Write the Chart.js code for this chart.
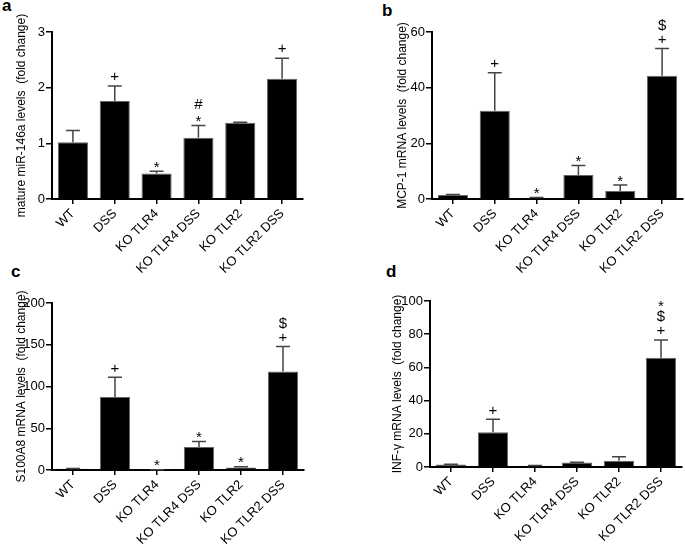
<!DOCTYPE html>
<html>
<head>
<meta charset="utf-8">
<script src="https://cdn.jsdelivr.net/npm/chart.js@4.4.1/dist/chart.umd.min.js"></script>
<style>
  html, body { margin: 0; padding: 0; background: #fff; }
  #wrap { position: relative; width: 685px; height: 545px; overflow: hidden; font-family: "Liberation Sans", Arial, sans-serif; }
  canvas { position: absolute; }
  .tag { position: absolute; font-weight: bold; font-size: 17px; line-height: 17px; color: #000; }
</style>
</head>
<body>
<div id="wrap">
  <div class="tag" style="left:2px; top:-3px;">a</div>
  <div class="tag" style="left:382px; top:2px;">b</div>
  <div class="tag" style="left:11px; top:263px;">c</div>
  <div class="tag" style="left:386px; top:263px;">d</div>
  <canvas id="chartC" width="340" height="275" style="left:0; top:270px;"></canvas>
  <canvas id="chartD" width="345" height="275" style="left:340px; top:270px;"></canvas>
  <canvas id="chartA" width="340" height="290" style="left:0; top:0;"></canvas>
  <canvas id="chartB" width="345" height="290" style="left:340px; top:0;"></canvas>
</div>
<script>
const categories = ['WT', 'DSS', 'KO TLR4', 'KO TLR4 DSS', 'KO TLR2', 'KO TLR2 DSS'];

// a: mature miR-146a
const mirValues = [1.02, 1.76, 0.46, 1.10, 1.37, 2.16];
const mirErrors = [0.21, 0.27, 0.04, 0.22, 0.01, 0.37];
const mirMarks = [[], ['+'], ['*'], ['*', '#'], [], ['+']];
const mirTicks = [0, 1, 2, 3];

// b: MCP-1 mRNA
const mcpValues = [1.4, 31.7, 0.4, 8.6, 2.9, 44.3];
const mcpErrors = [0.2, 13.7, 0.1, 3.4, 2.1, 9.8];
const mcpMarks = [[], ['+'], ['*'], ['*'], ['*'], ['+', '$']];
const mcpTicks = [0, 20, 40, 60];

// c: S100A8 mRNA
const s100Values = [1.5, 87.5, 0.3, 27.5, 3.0, 118];
const s100Errors = [0.3, 23.5, 0.1, 6.5, 1.0, 30];
const s100Marks = [[], ['+'], ['*'], ['*'], ['*'], ['+', '$']];
const s100Ticks = [0, 50, 100, 150, 200];

// d: INF-gamma mRNA
const infValues = [1.5, 20.9, 0.8, 2.7, 3.8, 65.8];
const infErrors = [0.2, 7.8, 0.1, 0.2, 2.4, 10.7];
const infMarks = [[], ['+'], [], [], [], ['+', '$', '*']];
const infTicks = [0, 20, 40, 60, 80, 100];

const FONT = '"Liberation Sans", Arial, sans-serif';

// vertical centre of each glyph above its baseline, in em
const glyphMid = { '+': 0.35, '*': 0.58, '$': 0.35, '#': 0.35 };
const MARK_SIZE = 15;

const errorBars = {
  id: 'errorBars',
  afterDatasetsDraw(chart, args, opts) {
    const ctx = chart.ctx;
    const meta = chart.getDatasetMeta(0);
    const yScale = chart.scales.y;
    const values = chart.data.datasets[0].data;
    ctx.save();
    meta.data.forEach((bar, i) => {
      const top = yScale.getPixelForValue(values[i] + opts.errors[i]);
      ctx.strokeStyle = '#444';
      ctx.lineWidth = 1.5;
      ctx.beginPath();
      ctx.moveTo(bar.x, bar.y);
      ctx.lineTo(bar.x, top);
      ctx.moveTo(bar.x - 7, top);
      ctx.lineTo(bar.x + 7, top);
      ctx.stroke();

      // significance marks, stacked upwards
      ctx.fillStyle = '#000';
      ctx.font = MARK_SIZE + 'px ' + FONT;
      ctx.textAlign = 'center';
      ctx.textBaseline = 'alphabetic';
      let centre = top;
      opts.marks[i].forEach((m, k) => {
        centre -= k === 0 ? (m === '*' ? 8 : 10) : 14;
        ctx.fillText(m, bar.x, centre + glyphMid[m] * MARK_SIZE);
      });
    });
    ctx.restore();
  }
};

function drawPanel(canvasId, values, errors, marks, ticks, title, pad, xHeight, titlePad) {
  const canvas = document.getElementById(canvasId);
  if (!canvas) return;

  new Chart(canvas, {
    type: 'bar',
    data: {
      labels: categories,
      datasets: [{
        data: values,
        backgroundColor: '#000',
        borderColor: '#666',
        borderWidth: 1,
        categoryPercentage: 1,
        barPercentage: 0.72
      }]
    },
    options: {
      responsive: false,
      animation: false,
      events: [],
      layout: { padding: pad },
      plugins: {
        legend: { display: false },
        tooltip: { enabled: false },
        errorBars: { errors: errors, marks: marks }
      },
      scales: {
        x: {
          afterFit: (scale) => { scale.height = xHeight; },
          grid: {
            offset: false,
            drawOnChartArea: false,
            drawTicks: true,
            tickLength: 5,
            color: '#000',
            lineWidth: 1.5
          },
          border: { display: true, color: '#000', width: 2 },
          ticks: {
            autoSkip: false,
            minRotation: 45,
            maxRotation: 45,
            padding: 2,
            color: '#000',
            font: { family: FONT, size: 13 }
          }
        },
        y: {
          min: ticks[0],
          max: ticks[ticks.length - 1],
          afterFit: (scale) => { scale.width = 52; },
          afterBuildTicks: (scale) => { scale.ticks = ticks.map(v => ({ value: v })); },
          grid: {
            drawOnChartArea: false,
            drawTicks: true,
            tickLength: 6,
            color: '#000',
            lineWidth: 1.5
          },
          border: { display: true, color: '#000', width: 2 },
          ticks: {
            padding: 1,
            color: '#000',
            font: { family: FONT, size: 13 }
          },
          title: {
            display: true,
            text: title,
            color: '#000',
            font: { family: FONT, size: 12 },
            padding: { top: titlePad, bottom: 0 }
          }
        }
      }
    },
    plugins: [errorBars]
  });
}

drawPanel('chartA', mirValues, mirErrors, mirMarks, mirTicks,
  'mature miR-146a levels  (fold change)', { left: 0, top: 32, right: 37, bottom: 0 }, 91, 14.8);
drawPanel('chartB', mcpValues, mcpErrors, mcpMarks, mcpTicks,
  'MCP-1 mRNA levels  (fold change)', { left: 40, top: 32, right: 2, bottom: 0 }, 91, 15.8);
drawPanel('chartC', s100Values, s100Errors, s100Marks, s100Ticks,
  'S100A8 mRNA levels  (fold change)', { left: 0, top: 33, right: 36, bottom: 0 }, 75, 14.8);
drawPanel('chartD', infValues, infErrors, infMarks, infTicks,
  'INF-\u03b3 mRNA levels  (fold change)', { left: 38, top: 31, right: 3, bottom: 0 }, 78, 12.8);
</script>
</body>
</html>
